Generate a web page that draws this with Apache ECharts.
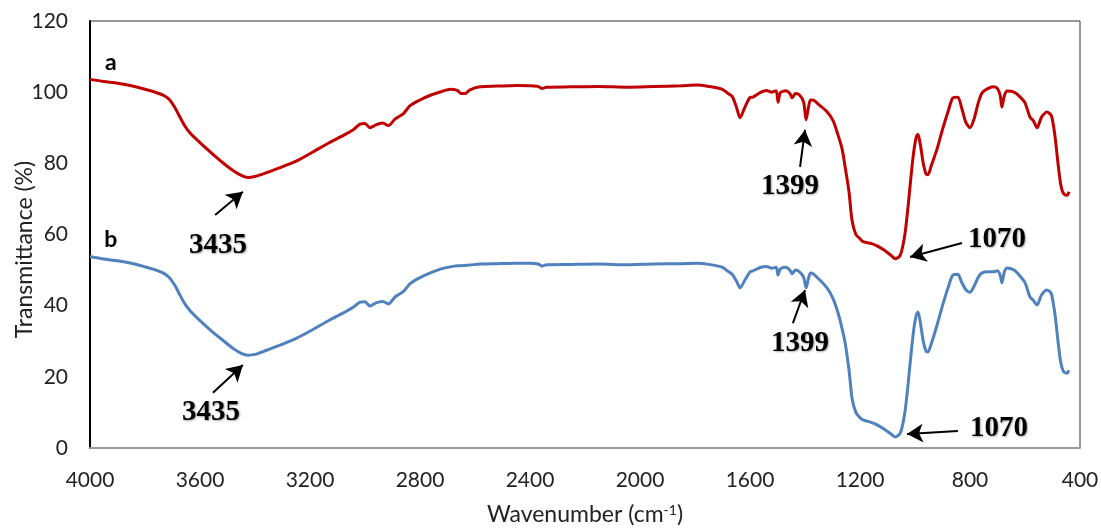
<!DOCTYPE html>
<html>
<head>
<meta charset="utf-8">
<script src="https://cdn.jsdelivr.net/npm/echarts@6/dist/echarts.min.js"></script>
<style>
html,body{margin:0;padding:0;background:#fff;}
#chart{width:1101px;height:529px;}
</style>
</head>
<body>
<div id="chart"></div>
<script>
// ---- Data ----
const xTicks = [4000, 3600, 3200, 2800, 2400, 2000, 1600, 1200, 800, 400];
const yTicks = [0, 20, 40, 60, 80, 100, 120];

const waveA = [4000,3950,3900,3850,3800,3760,3730,3710,3690,3673,3655,3636,3600,3560,3516,3480,3450,3425,3400,3360,3309,3250,3189,3130,3080,3040,3018,3000,2982,2960,2935,2915,2890,2860,2836,2800,2760,2720,2690,2665,2650,2635,2620,2582,2520,2450,2400,2370,2356,2340,2250,2150,2050,1950,1850,1793,1750,1700,1683,1665,1650,1636,1620,1600,1589,1560,1540,1520,1505,1498,1490,1470,1455,1447,1435,1420,1405,1396,1388,1380,1371,1350,1320,1298,1280,1265,1254,1240,1229,1215,1200,1189,1160,1138,1110,1085,1072,1055,1045,1035,1025,1015,1005,995,989,980,970,960,953,940,920,900,880,862,844,830,815,800,785,770,756,735,716,700,690,684,675,665,640,620,600,582,570,556,540,520,505,498,490,480,470,460,447,440];
const transA = [103.6,103.0,102.5,101.8,100.8,99.9,99.0,97.8,95.5,93.0,90.5,88.5,85.8,83.0,80.1,78.0,76.6,76.0,76.3,77.3,78.8,80.6,83.2,85.8,87.8,89.6,91.0,91.2,90.0,90.8,91.3,90.6,92.5,94.0,96.2,97.8,99.2,100.2,100.8,100.5,99.6,99.6,100.6,101.5,101.7,101.9,101.8,101.6,101.0,101.4,101.5,101.6,101.4,101.6,101.8,102.0,101.6,100.8,99.8,98.8,96.0,92.8,95.5,98.5,98.6,100.0,100.5,100.0,100.4,97.2,99.8,100.4,99.6,98.4,99.6,99.2,97.2,92.2,95.5,97.8,97.8,96.5,94.5,92.0,88.0,84.0,79.0,72.0,64.0,60.0,58.8,58.0,57.5,56.8,55.5,54.0,53.2,54.0,56.5,61.0,68.0,76.0,83.0,87.5,88.2,85.0,80.0,77.0,76.8,79.5,84.0,89.5,94.5,98.4,98.6,95.5,91.5,90.0,92.5,97.0,99.8,101.0,101.5,101.0,99.0,95.8,99.0,100.3,100.0,98.8,97.0,93.0,92.0,90.0,93.0,94.4,93.5,91.3,87.0,80.0,74.0,71.5,71.0,72.0];

const waveB = [4000,3950,3900,3850,3800,3760,3730,3710,3690,3673,3655,3636,3600,3560,3516,3480,3450,3425,3400,3360,3309,3250,3189,3130,3080,3040,3018,3000,2982,2960,2935,2915,2890,2860,2836,2800,2760,2720,2690,2665,2620,2582,2520,2450,2400,2370,2356,2340,2250,2150,2050,1950,1850,1793,1750,1700,1683,1665,1650,1636,1620,1600,1589,1560,1540,1520,1505,1498,1490,1470,1455,1447,1435,1420,1405,1396,1388,1380,1371,1350,1320,1298,1280,1265,1254,1240,1229,1215,1200,1189,1160,1138,1110,1085,1072,1055,1045,1035,1025,1015,1005,995,989,980,970,960,953,940,920,900,880,862,844,830,815,800,785,770,756,735,716,700,690,684,675,665,640,620,600,582,570,556,540,520,505,498,490,480,470,460,447,440];
const transB = [53.8,53.1,52.6,51.9,50.9,50.0,49.0,47.8,45.5,43.0,40.5,38.6,35.8,33.0,30.2,28.0,26.6,26.1,26.3,27.4,28.9,30.8,33.3,35.9,37.9,39.7,41.0,41.1,39.9,40.8,41.2,40.5,42.5,44.0,46.2,47.9,49.3,50.4,50.9,51.2,51.4,51.7,51.8,51.9,51.9,51.7,51.1,51.5,51.6,51.7,51.5,51.7,51.8,51.9,51.6,50.8,49.8,48.8,47.0,45.0,47.0,49.5,49.8,50.8,51.0,50.5,50.8,48.6,50.3,50.8,50.0,49.0,50.0,49.5,48.0,45.0,47.5,49.2,49.0,47.5,45.0,42.0,38.0,33.5,29.5,22.0,14.0,10.0,8.5,7.9,7.2,6.5,5.2,3.8,3.1,4.0,6.5,11.0,18.0,26.0,33.0,37.5,38.2,35.0,30.0,27.2,27.0,29.5,34.5,40.0,45.0,48.6,48.8,46.5,44.5,43.8,45.5,48.0,49.2,49.5,49.5,49.8,48.5,46.4,49.5,50.6,50.0,48.5,46.5,42.5,41.5,40.2,43.0,44.4,43.5,41.0,37.0,30.0,24.0,21.5,21.0,21.8];

// annotations: [label, textX, textY, arrowFromX, arrowFromY, arrowToX, arrowToY]
const peakNotesA = [
  ['3435', 3535, 56.8, 3545, 65.5, 3444, 72.0],
  ['1399', 1455, 73.6, 1418, 79.0, 1400, 89.4],
  ['1070', 702, 58.5, 829, 57.6, 1018, 53.7]
];
const peakNotesB = [
  ['3435', 3560, 10.1, 3553, 15.5, 3444, 23.3],
  ['1399', 1418, 29.5, 1444, 35.1, 1400, 44.4],
  ['1070', 695, 5.6, 844, 4.8, 1029, 3.9]
];
const curveLabels = [['a', 3924, 108.2], ['b', 3924, 58.5]];

// ---- Build ----
const zip = (xs, ys) => xs.map((x, i) => [x, ys[i]]);

const noteText = {
  color: '#000', fontFamily: 'Liberation Serif', fontWeight: 'bold', fontSize: 29,
  textShadowColor: 'rgba(0,0,0,0.35)', textShadowBlur: 2, textShadowOffsetX: 1, textShadowOffsetY: 1
};

function marks(notes, curveLab) {
  return {
    markPoint: {
      silent: true,
      symbol: 'circle', symbolSize: 0,
      data: notes.map(n => ({ coord: [n[1], n[2]], label: Object.assign({ show: true, formatter: n[0], position: 'inside' }, noteText) }))
        .concat([{ coord: [curveLab[1], curveLab[2]], label: { show: true, formatter: curveLab[0], position: 'inside', color: '#000', fontFamily: 'Lato', fontWeight: 'bold', fontSize: 23 } }])
    },
    markLine: {
      silent: true,
      symbol: ['none', 'arrow'],
      symbolSize: [14, 16],
      label: { show: false },
      lineStyle: { color: '#000', width: 2, type: 'solid' },
      data: notes.map(n => [{ coord: [n[3], n[4]] }, { coord: [n[5], n[6]] }])
    }
  };
}

const chart = echarts.init(document.getElementById('chart'), null, { renderer: 'canvas' });
chart.setOption({
  animation: false,
  backgroundColor: '#fff',
  grid: { left: 90, right: 21, top: 21, bottom: 81, show: true, borderColor: '#333', borderWidth: 1,
    containLabel: false, outerBoundsMode: 'none' },
  xAxis: {
    type: 'value', inverse: true, min: 400, max: 4000, interval: 400,
    axisLine: { show: true, lineStyle: { color: '#999', width: 2 } },
    axisTick: { show: false },
    splitLine: { show: false },
    axisLabel: { color: '#222', fontFamily: 'Lato', fontSize: 21, margin: 22,
      formatter: v => xTicks.includes(v) ? String(v) : '' },
    name: 'Wavenumber (cm{sup|-1})',
    nameLocation: 'middle', nameGap: 55,
    nameTextStyle: { color: '#222', fontFamily: 'Lato', fontSize: 23,
      rich: { sup: { fontFamily: 'Lato', fontSize: 14, verticalAlign: 'top', padding: [0, 0, 10, 0], color: '#222' } } }
  },
  yAxis: {
    type: 'value', min: 0, max: 120, interval: 20,
    axisLine: { show: true, lineStyle: { color: '#000', width: 2 } },
    axisTick: { show: false },
    splitLine: { show: false },
    axisLabel: { color: '#222', fontFamily: 'Lato', fontSize: 21, margin: 22,
      formatter: v => yTicks.includes(v) ? String(v) : '' },
    name: 'Transmittance (%)',
    nameLocation: 'middle', nameGap: 54, nameRotate: 90, nameMoveOverlap: false,
    nameTextStyle: { color: '#222', fontFamily: 'Lato', fontSize: 23, padding: [0, 30, 0, 0] }
  },
  series: [
    Object.assign({
      name: 'a', type: 'line', data: zip(waveA, transA),
      showSymbol: false, smooth: 0.25,
      lineStyle: { color: '#C00000', width: 3 }, itemStyle: { color: '#C00000' }
    }, marks(peakNotesA, curveLabels[0])),
    Object.assign({
      name: 'b', type: 'line', data: zip(waveB, transB),
      showSymbol: false, smooth: 0.25,
      lineStyle: { color: '#4F81BD', width: 3 }, itemStyle: { color: '#4F81BD' }
    }, marks(peakNotesB, curveLabels[1]))
  ]
});
</script>
</body>
</html>
